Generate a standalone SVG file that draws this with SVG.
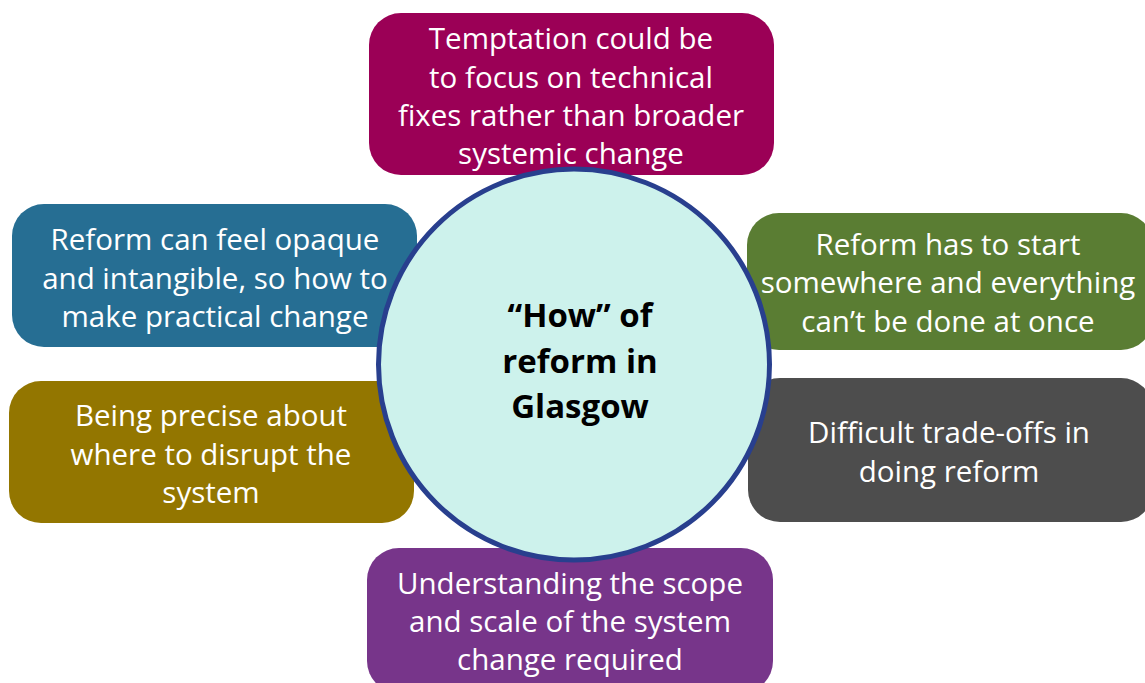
<svg xmlns="http://www.w3.org/2000/svg" width="1145" height="683" viewBox="0 0 1145 683">
  <style>
    .box text { font-family: "Open Sans", Lato, "Liberation Sans", sans-serif; font-size: 29.5px; fill: #ffffff; text-anchor: middle; }
    .hub text { font-family: "Open Sans", Lato, "Liberation Sans", sans-serif; font-size: 33px; font-weight: bold; fill: #000000; text-anchor: middle; }
  </style>
  <rect width="1145" height="683" fill="#ffffff"/>

  <g id="node-temptation" class="box">
    <rect x="369" y="13" width="405" height="162" rx="32" fill="#9b0056"/>
    <text x="571" y="49">Temptation could be</text>
    <text x="571" y="88">to focus on technical</text>
    <text x="571" y="126">fixes rather than broader</text>
    <text x="571" y="164">systemic change</text>
  </g>

  <g id="node-opaque" class="box">
    <rect x="12" y="204" width="405" height="143" rx="32" fill="#266e93"/>
    <text x="215" y="250">Reform can feel opaque</text>
    <text x="215" y="289">and intangible, so how to</text>
    <text x="215" y="327">make practical change</text>
  </g>

  <g id="node-precise" class="box">
    <rect x="9" y="381" width="405" height="142" rx="32" fill="#937600"/>
    <text x="211" y="426">Being precise about</text>
    <text x="211" y="465">where to disrupt the</text>
    <text x="211" y="503">system</text>
  </g>

  <g id="node-start" class="box">
    <rect x="747" y="213" width="406" height="137" rx="32" fill="#5a7d33"/>
    <text x="948" y="255">Reform has to start</text>
    <text x="948" y="293">somewhere and everything</text>
    <text x="948" y="332">can’t be done at once</text>
  </g>

  <g id="node-tradeoffs" class="box">
    <rect x="748" y="378" width="405" height="144" rx="32" fill="#4d4d4d"/>
    <text x="949" y="443">Difficult trade-offs in</text>
    <text x="949" y="482">doing reform</text>
  </g>

  <g id="node-scope" class="box">
    <rect x="367" y="548" width="406" height="145" rx="32" fill="#77358a"/>
    <text x="570" y="594">Understanding the scope</text>
    <text x="570" y="632">and scale of the system</text>
    <text x="570" y="670">change required</text>
  </g>

  <g id="node-hub" class="hub">
    <circle cx="574" cy="364.5" r="195.5" fill="#cdf2ec" stroke="#283f8e" stroke-width="5"/>
    <text x="580" y="327">“How” of</text>
    <text x="580" y="373">reform in</text>
    <text x="580" y="418">Glasgow</text>
  </g>

  <g id="connectors"/>
</svg>
